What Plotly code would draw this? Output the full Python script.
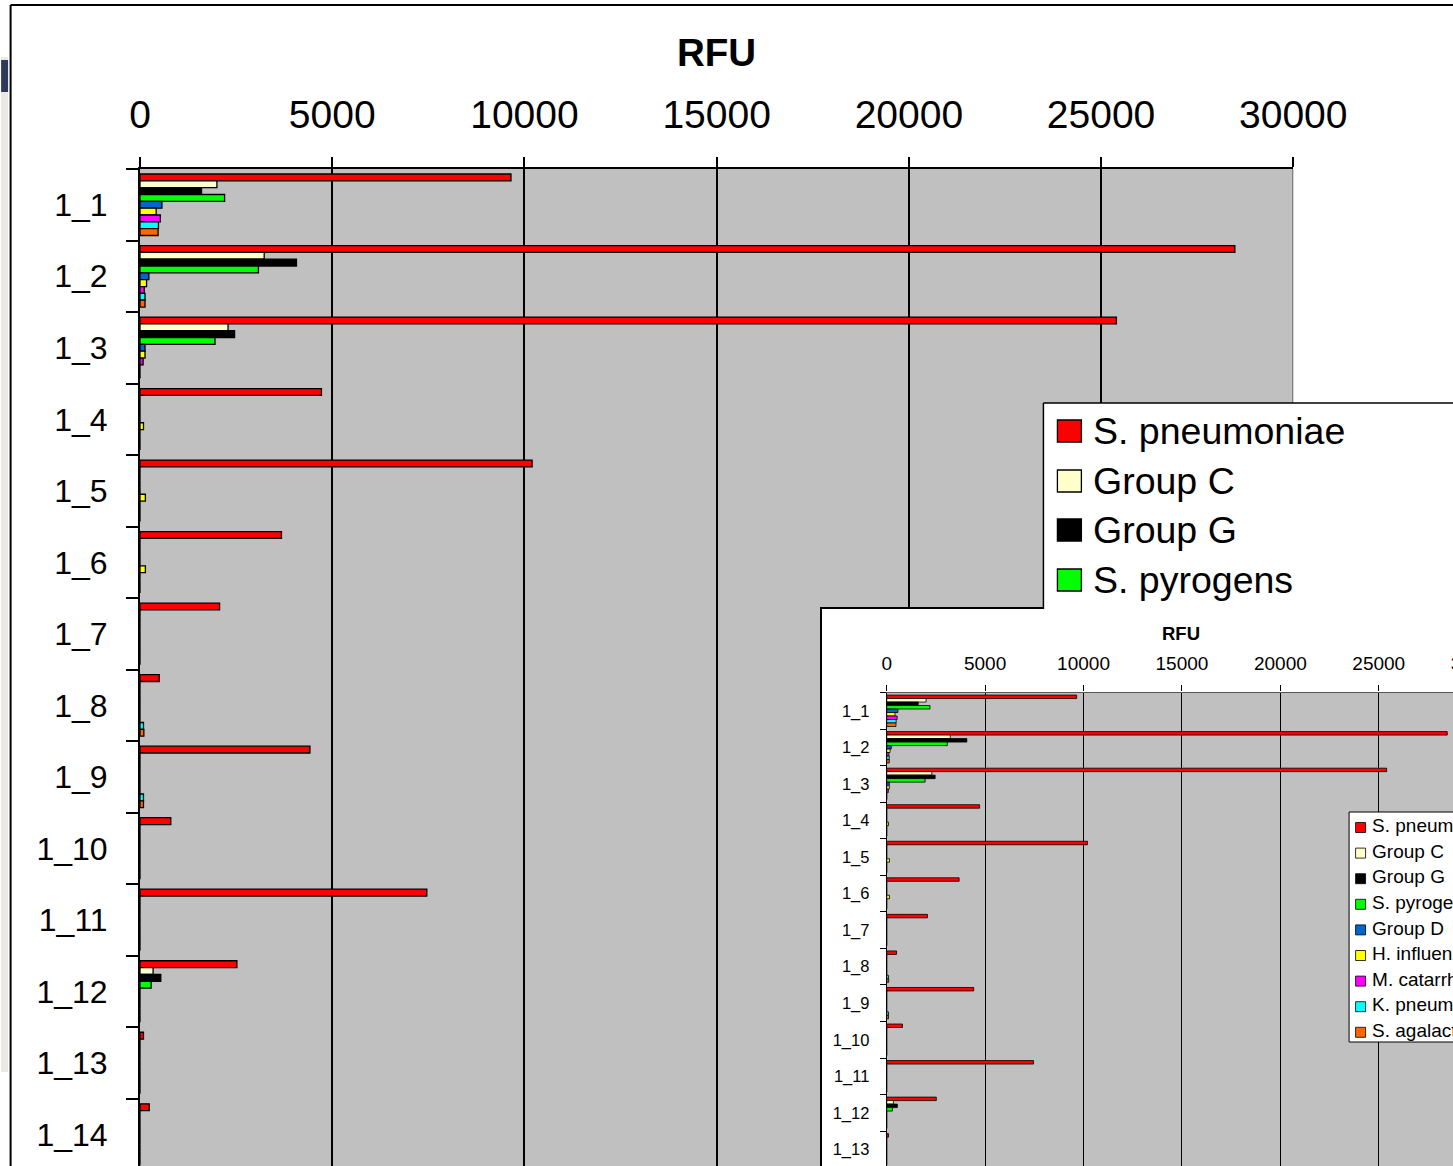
import plotly.graph_objects as go

FONT = "Liberation Sans, Arial, sans-serif"

# ---- data -------------------------------------------------------------
samples = ["1_1", "1_2", "1_3", "1_4", "1_5", "1_6", "1_7",
           "1_8", "1_9", "1_10", "1_11", "1_12", "1_13", "1_14"]

series_names = ["S. pneumoniae", "Group C", "Group G", "S. pyrogens", "Group D",
                "H. influenzae", "M. catarrhalis", "K. pneumoniae", "S. agalactiae"]
series_colors = ["#FF0000", "#FFFFCC", "#000000", "#00FF00", "#0066CC",
                 "#FFFF00", "#FF00FF", "#00FFFF", "#FF6600"]

s_pneumoniae = [9650, 28480, 25400, 4720, 10200, 3680, 2070, 500, 4420, 800, 7460, 2520, 90, 240]
group_c = [2000, 3230, 2290, 0, 0, 0, 0, 0, 0, 0, 0, 340, 0, 0]
group_g = [1600, 4070, 2460, 0, 0, 0, 0, 0, 0, 0, 0, 540, 0, 0]
s_pyrogens = [2200, 3080, 1950, 0, 0, 0, 0, 0, 0, 0, 0, 290, 0, 0]
group_d = [570, 230, 130, 0, 0, 0, 0, 0, 0, 0, 0, 0, 0, 0]
h_influenzae = [420, 170, 130, 90, 140, 140, 0, 0, 0, 0, 0, 0, 0, 0]
m_catarrhalis = [530, 110, 80, 0, 0, 0, 0, 0, 0, 0, 0, 0, 0, 0]
k_pneumoniae = [480, 130, 0, 0, 0, 0, 0, 90, 90, 0, 0, 0, 0, 0]
s_agalactiae = [470, 130, 0, 0, 0, 0, 0, 100, 90, 0, 0, 0, 0, 0]

series_values = [s_pneumoniae, group_c, group_g, s_pyrogens, group_d,
                 h_influenzae, m_catarrhalis, k_pneumoniae, s_agalactiae]

x_ticks = [0, 5000, 10000, 15000, 20000, 25000, 30000]
axis_title = "RFU"

# ---- page geometry ----------------------------------------------------
VW, H = 1453, 1166            # visible page size
OX, SX = 9.9, 0.9575          # horizontal placement of the figure on the page
W = round((VW - OX) / SX)     # figure width


def px(x):
    """page x (pixels) -> paper fraction"""
    return (x - OX) / SX / W


def py(y):
    """page y (pixels) -> paper fraction"""
    return 1 - y / H


main_x0, main_x1, main_top = 139, 1293, 169
ins_x0, ins_top = 886.2, 692.5
frame_x, frame_y = 821, 609
ins_px_per_unit = 0.0197
ins_xmax = (VW - ins_x0) / ins_px_per_unit

fig = go.Figure()

# main chart bars
for name, color, vals in zip(series_names, series_colors, series_values):
    fig.add_trace(go.Bar(
        x=vals, y=samples, orientation="h", name=name,
        marker=dict(color=color, line=dict(color="black", width=1.3)),
        xaxis="x", yaxis="y", showlegend=False, hoverinfo="x+y+name",
    ))

# white chart area of the embedded copy (axes x2/y2 run in page pixels)
fig.add_trace(go.Scatter(
    x=[frame_x, VW, VW, frame_x, frame_x], y=[H, H, frame_y, frame_y, H],
    mode="lines", fill="toself", fillcolor="white", line=dict(width=0),
    xaxis="x2", yaxis="y2", showlegend=False, hoverinfo="skip",
))
# its last tick label, cut by the page edge
fig.add_trace(go.Scatter(
    x=[ins_x0 + x_ticks[-1] * ins_px_per_unit], y=[665], mode="text",
    text=[str(x_ticks[-1])], textposition="middle center",
    textfont=dict(family=FONT, size=19, color="black"), cliponaxis=True,
    xaxis="x2", yaxis="y2", showlegend=False, hoverinfo="skip",
))

# embedded copy bars
for name, color, vals in zip(series_names, series_colors, series_values):
    fig.add_trace(go.Bar(
        x=vals, y=samples, orientation="h", name=name,
        marker=dict(color=color, line=dict(color="black", width=0.8)),
        xaxis="x3", yaxis="y3", showlegend=False, hoverinfo="x+y+name",
    ))

# legend of the embedded copy, cut by the page edge (axes x4/y4 in page pixels)
leg_x0, leg_y0, leg_y1 = 1349, 812, 1042
leg_rows = [827.5 + i * 25.6 for i in range(len(series_names))]
fig.add_trace(go.Scatter(
    x=[VW + 5, leg_x0, leg_x0, VW + 5], y=[leg_y0, leg_y0, leg_y1, leg_y1],
    mode="lines", fill="toself", fillcolor="white", line=dict(color="black", width=1),
    xaxis="x4", yaxis="y4", showlegend=False, hoverinfo="skip",
))
fig.add_trace(go.Scatter(
    x=[1360.5] * len(series_names), y=leg_rows, mode="markers",
    marker=dict(symbol="square", size=10, color=series_colors,
                line=dict(color="black", width=0.8)),
    xaxis="x4", yaxis="y4", showlegend=False, hoverinfo="skip",
))
fig.add_trace(go.Scatter(
    x=[1372] * len(series_names), y=leg_rows, mode="text", text=series_names,
    textposition="middle right", textfont=dict(family=FONT, size=19, color="black"),
    cliponaxis=True, xaxis="x4", yaxis="y4", showlegend=False, hoverinfo="skip",
))

fig.update_layout(
    width=W, height=H, autosize=False,
    margin=dict(l=0, r=0, t=0, b=0, pad=0),
    paper_bgcolor="white", plot_bgcolor="#C0C0C0",
    barmode="group", bargap=0.14, bargroupgap=0,
    font=dict(family=FONT, color="black"),
    xaxis=dict(
        domain=[px(main_x0), px(main_x1)], anchor="y", side="top",
        range=[0, 30000], tickvals=x_ticks, tickformat="d",
        showgrid=True, gridcolor="black", gridwidth=2, zeroline=False,
        showline=True, linecolor="black", linewidth=2,
        ticks="outside", ticklen=10, tickwidth=2, tickcolor="black",
        tickfont=dict(family=FONT, size=39, color="black"),
        ticklabelstandoff=13, fixedrange=True,
    ),
    yaxis=dict(
        domain=[0, py(main_top)], anchor="x", type="category",
        categoryarray=samples, categoryorder="array",
        range=[13.44, -0.5], tickson="boundaries",
        showgrid=False, zeroline=False,
        showline=True, linecolor="black", linewidth=2,
        ticks="outside", ticklen=12, tickwidth=1.5, tickcolor="black",
        tickfont=dict(family=FONT, size=32, color="black"),
        ticklabelstandoff=24, fixedrange=True,
    ),
    xaxis2=dict(
        domain=[px(frame_x), 1], anchor="y2", side="top", range=[frame_x, VW],
        showline=True, linecolor="black", linewidth=1.5, showgrid=False,
        zeroline=False, showticklabels=False, ticks="", fixedrange=True,
    ),
    yaxis2=dict(
        domain=[0, py(frame_y)], anchor="x2", range=[H, frame_y],
        showline=True, linecolor="black", linewidth=1.5, showgrid=False,
        zeroline=False, showticklabels=False, ticks="", fixedrange=True,
    ),
    xaxis3=dict(
        domain=[px(ins_x0), 1], anchor="y3", side="top",
        range=[0, ins_xmax], tickvals=x_ticks, tickformat="d",
        showgrid=True, gridcolor="black", gridwidth=1, zeroline=False,
        showline=True, linecolor="#555555", linewidth=1.2,
        ticks="outside", ticklen=6, tickwidth=1, tickcolor="black",
        tickfont=dict(family=FONT, size=19, color="black"),
        ticklabelstandoff=8, fixedrange=True,
    ),
    yaxis3=dict(
        domain=[0, py(ins_top)], anchor="x3", type="category",
        categoryarray=samples, categoryorder="array",
        range=[12.455, -0.5], tickson="boundaries",
        showgrid=False, zeroline=False,
        showline=True, linecolor="black", linewidth=1,
        ticks="outside", ticklen=6, tickwidth=1, tickcolor="black",
        tickfont=dict(family=FONT, size=16.5, color="black"),
        ticklabelstandoff=13, fixedrange=True,
    ),
    xaxis4=dict(overlaying="x3", range=[ins_x0, VW], visible=False, fixedrange=True),
    yaxis4=dict(overlaying="y3", range=[H, ins_top], visible=False, fixedrange=True),
)

shapes = []
annotations = []

# window edge at the far left
shapes.append(dict(type="rect", xref="paper", yref="paper", layer="below",
                   x0=px(0), x1=px(7), y0=py(1072), y1=py(57),
                   fillcolor="#ECE8E4", line=dict(width=0)))
shapes.append(dict(type="rect", xref="paper", yref="paper", layer="below",
                   x0=px(0), x1=px(7), y0=py(92), y1=py(60),
                   fillcolor="#2F3A5A", line=dict(width=0)))
# outer chart border (top and left sides)
shapes.append(dict(type="line", xref="paper", yref="paper", layer="below",
                   x0=px(9.5), x1=1, y0=py(5), y1=py(5),
                   line=dict(color="black", width=2)))
shapes.append(dict(type="line", xref="paper", yref="paper", layer="below",
                   x0=px(9.5), x1=px(9.5), y0=0, y1=py(5),
                   line=dict(color="black", width=2)))

# right edge of the main plot area
shapes.append(dict(type="line", xref="x", yref="paper", layer="above",
                   x0=30000, x1=30000, y0=py(403), y1=py(main_top),
                   line=dict(color="#808080", width=2.5)))

# main legend (lower part hidden behind the embedded copy)
shapes.append(dict(type="rect", xref="paper", yref="paper", layer="above",
                   x0=px(1043), x1=1, y0=py(609), y1=py(403),
                   fillcolor="white", line=dict(width=0)))
shapes.append(dict(type="line", xref="paper", yref="paper", layer="above",
                   x0=px(1043), x1=1, y0=py(403), y1=py(403),
                   line=dict(color="black", width=1.5)))
shapes.append(dict(type="line", xref="paper", yref="paper", layer="above",
                   x0=px(1043), x1=px(1043), y0=py(609), y1=py(403),
                   line=dict(color="black", width=1.5)))
main_leg_rows = [431, 481, 530, 580]
for i, yc in enumerate(main_leg_rows):
    shapes.append(dict(type="rect", xref="paper", yref="paper", layer="above",
                       x0=px(1057), x1=px(1081), y0=py(yc + 11), y1=py(yc - 11),
                       fillcolor=series_colors[i], line=dict(color="black", width=1.3)))
    annotations.append(dict(x=px(1091), y=py(yc), xref="paper", yref="paper",
                            text=series_names[i], showarrow=False,
                            xanchor="left", yanchor="middle",
                            font=dict(family=FONT, size=37.5, color="black")))

# axis titles
annotations.append(dict(x=px(716), y=py(52), xref="paper", yref="paper",
                        text="<b>" + axis_title + "</b>", showarrow=False,
                        xanchor="center", yanchor="middle",
                        font=dict(family=FONT, size=38.5, color="black")))
annotations.append(dict(x=px(1181), y=py(633), xref="paper", yref="paper",
                        text="<b>" + axis_title + "</b>", showarrow=False,
                        xanchor="center", yanchor="middle",
                        font=dict(family=FONT, size=18.5, color="black")))

fig.update_layout(shapes=shapes, annotations=annotations)

fig.write_html("out.html")
